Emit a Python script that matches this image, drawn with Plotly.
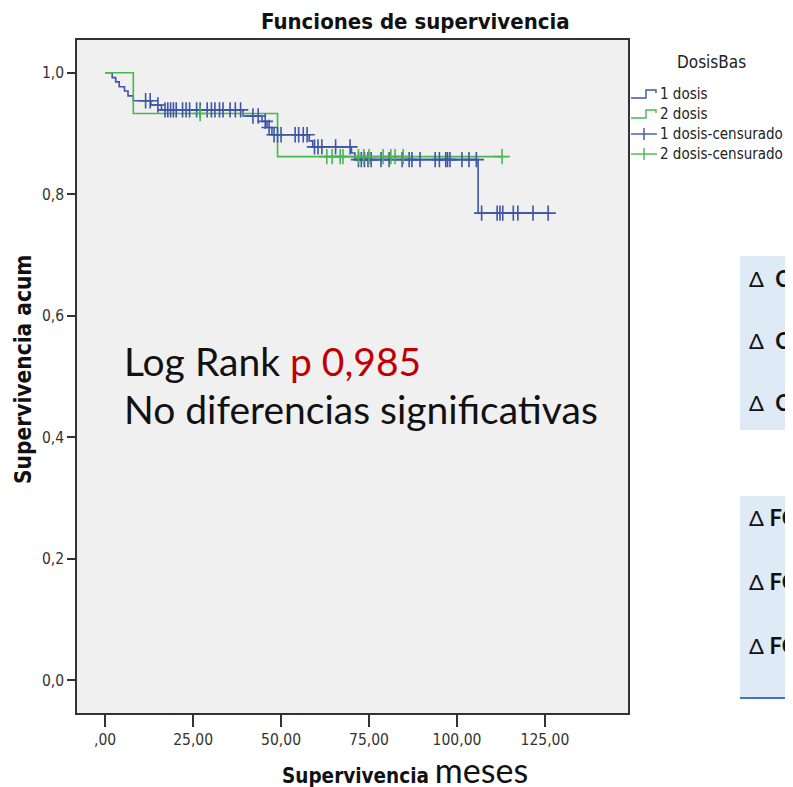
import numpy as np
import plotly.graph_objects as go

# ---------------- data ----------------
blue_event_t = [0, 2, 3, 4, 5.5, 6.5, 8, 13, 16, 39.2, 44.6, 46, 47.4, 58, 59, 70, 71, 106]
blue_surv = [1.0, 0.992, 0.985, 0.977, 0.970, 0.962, 0.954, 0.947, 0.939, 0.929, 0.920,
             0.910, 0.898, 0.888, 0.878, 0.868, 0.857, 0.769]
blue_end = 126.0
blue_cens_t = [11.5, 12.8, 15.0, 17.0, 17.8, 18.6, 19.4, 20.2, 22.0, 23.0, 24.0, 26.0, 27.0,
               29.0, 30.2, 31.2, 32.5, 33.5, 35.5, 37.0, 38.5, 42.0, 43.5, 45.5, 46.6, 48.0,
               49.0, 50.0, 54.0, 55.0, 56.3, 57.4, 59.5, 60.5, 61.6, 65.5, 69.6, 72.0, 72.8,
               73.7, 74.7, 75.6, 78.4, 80.7, 84.4, 86.4, 87.2, 89.5, 93.8, 95.0, 96.8, 97.3,
               98.0, 101.4, 103.4, 105.5, 107.0, 111.4, 112.2, 113.0, 116.0, 117.3, 121.6, 125.9]

green_event_t = [0, 8, 49]
green_surv = [1.0, 0.933, 0.862]
green_end = 112.8
green_cens_t = [27.0, 63.0, 64.5, 66.8, 67.6, 72.0, 73.5, 75.0, 79.0, 81.2, 82.4, 84.7, 112.8]

y_ticks = [0.0, 0.2, 0.4, 0.6, 0.8, 1.0]
y_ticklabels = ["0,0", "0,2", "0,4", "0,6", "0,8", "1,0"]
x_ticks = [0, 25, 50, 75, 100, 125]
x_ticklabels = [",00", "25,00", "50,00", "75,00", "100,00", "125,00"]

legend_labels = ["1 dosis", "2 dosis", "1 dosis-censurado", "2 dosis-censurado"]

BLUE = "#3f55a6"
GREEN = "#45b94c"
NARROW = "Liberation Sans Narrow, DejaVu Sans Condensed, Arial Narrow, sans-serif"
COND = "DejaVu Sans Condensed, Liberation Sans Narrow, sans-serif"
CAL = "Lato, Carlito, Calibri, Open Sans, sans-serif"


def surv_at(times, ev_t, ev_s):
    idx = np.searchsorted(np.array(ev_t), np.array(times), side="right") - 1
    return list(np.array(ev_s)[idx])


fig = go.Figure()
for ev_t, ev_s, end, col in [(blue_event_t, blue_surv, blue_end, BLUE),
                             (green_event_t, green_surv, green_end, GREEN)]:
    fig.add_trace(go.Scatter(x=list(ev_t) + [end], y=list(ev_s) + [ev_s[-1]],
                             mode="lines", line=dict(color=col, width=1.6, shape="hv"),
                             showlegend=False, hoverinfo="skip"))
for ct, ev_t, ev_s, col in [(blue_cens_t, blue_event_t, blue_surv, BLUE),
                            (green_cens_t, green_event_t, green_surv, GREEN)]:
    fig.add_trace(go.Scatter(x=ct, y=surv_at(ct, ev_t, ev_s), mode="markers",
                             marker=dict(symbol="cross-thin", size=11,
                                         line=dict(color=col, width=1.6)),
                             showlegend=False, hoverinfo="skip"))

# The page body keeps its default 8px margin, so the figure is offset by 8px.
OFF = 8
W, H = 793 - OFF, 787 - OFF
# plot area in screen pixels
L, R, T, B = 77, 628, 40, 713


def px(x):
    return (x - L) / (R - L)


def py(y):
    return (B - y) / (B - T)


shapes = []
annotations = []

# legend
annotations.append(dict(x=px(711), y=py(62), xref="paper", yref="paper", text="DosisBas",
                        showarrow=False, xanchor="center", yanchor="middle",
                        font=dict(family=COND, size=17, color="#222")))
leg_y = [94, 114, 134, 154]
cols = [BLUE, GREEN, BLUE, GREEN]
for i, (yy, lab, c) in enumerate(zip(leg_y, legend_labels, cols)):
    if i < 2:
        path = "M %f %f L %f %f L %f %f L %f %f L %f %f" % (
            px(631), py(yy + 4), px(646), py(yy + 4), px(646), py(yy - 4),
            px(656), py(yy - 4), px(656), py(yy - 1))
        shapes.append(dict(type="path", xref="paper", yref="paper", path=path,
                           line=dict(color=c, width=1.4)))
    else:
        shapes.append(dict(type="line", xref="paper", yref="paper", x0=px(631), x1=px(657),
                           y0=py(yy), y1=py(yy), line=dict(color=c, width=1.4)))
        shapes.append(dict(type="line", xref="paper", yref="paper", x0=px(644), x1=px(644),
                           y0=py(yy - 6), y1=py(yy + 6), line=dict(color=c, width=1.4)))
    annotations.append(dict(x=px(658), y=py(yy), xref="paper", yref="paper", text=lab,
                            showarrow=False, xanchor="left", yanchor="middle",
                            font=dict(family=COND, size=15, color="#222")))

# right-side boxes
shapes.append(dict(type="rect", xref="paper", yref="paper", x0=px(740), x1=px(820),
                   y0=py(430), y1=py(256), fillcolor="#deeaf6", line=dict(width=0), layer="below"))
shapes.append(dict(type="rect", xref="paper", yref="paper", x0=px(740), x1=px(820),
                   y0=py(697), y1=py(496), fillcolor="#deeaf6", line=dict(width=0), layer="below"))
shapes.append(dict(type="line", xref="paper", yref="paper", x0=px(740), x1=px(820),
                   y0=py(698), y1=py(698), line=dict(color="#4472c4", width=2)))
for yy in [278, 340, 402]:
    annotations.append(dict(x=px(747), y=py(yy), xref="paper", yref="paper",
                            text="Δ\u00a0\u00a0<b>C</b>", showarrow=False, xanchor="left",
                            yanchor="middle", font=dict(family=CAL, size=22, color="#111")))
for yy in [518, 581, 645]:
    annotations.append(dict(x=px(747), y=py(yy), xref="paper", yref="paper",
                            text="Δ\u00a0<b>FC</b>", showarrow=False, xanchor="left",
                            yanchor="middle", font=dict(family=CAL, size=22, color="#111")))

# log rank text
annotations.append(dict(x=px(122), y=py(361), xref="paper", yref="paper",
                        text="Log Rank <span style='color:#c00000'>p 0,985</span>",
                        showarrow=False, xanchor="left", yanchor="middle",
                        font=dict(family=CAL, size=39, color="#111")))
annotations.append(dict(x=px(122), y=py(409), xref="paper", yref="paper",
                        text="No diferencias significativas",
                        showarrow=False, xanchor="left", yanchor="middle",
                        font=dict(family=CAL, size=39, color="#111")))

# titles
annotations.append(dict(x=px(415), y=py(21), xref="paper", yref="paper",
                        text="<b>Funciones de supervivencia</b>", showarrow=False,
                        xanchor="center", yanchor="middle",
                        font=dict(family=NARROW, size=22, color="#111")))
annotations.append(dict(x=px(405), y=py(769), xref="paper", yref="paper",
                        text="<b>Supervivencia</b> <span style='font-family:Lato, Carlito, sans-serif;font-size:34px'>meses</span>",
                        showarrow=False, xanchor="center", yanchor="middle",
                        font=dict(family=NARROW, size=20.5, color="#111")))
annotations.append(dict(x=px(23), y=py(370), xref="paper", yref="paper",
                        text="<b>Supervivencia acum</b>", showarrow=False, textangle=-90,
                        xanchor="center", yanchor="middle",
                        font=dict(family=NARROW, size=22.5, color="#111")))

fig.update_layout(
    width=W, height=H,
    margin=dict(l=L - OFF, r=W - (R - OFF), t=T - OFF, b=H - (B - OFF), pad=0),
    paper_bgcolor="white", plot_bgcolor="#f0f0f0",
    showlegend=False,
    shapes=shapes, annotations=annotations,
    xaxis=dict(range=[-8, 148.6], tickvals=x_ticks, ticktext=x_ticklabels,
               showgrid=False, zeroline=False, showline=True, mirror=True,
               linecolor="#333", linewidth=1.6, ticks="outside", ticklen=12,
               tickwidth=1.5, tickcolor="#333",
               tickfont=dict(family=NARROW, size=15.5, color="#333")),
    yaxis=dict(range=[-0.054, 1.054], tickvals=y_ticks, ticktext=y_ticklabels,
               showgrid=False, zeroline=False, showline=True, mirror=True,
               linecolor="#333", linewidth=1.6, ticks="outside", ticklen=8,
               tickwidth=1.5, tickcolor="#333",
               tickfont=dict(family=NARROW, size=15.5, color="#333")),
)

fig.write_html("out.html")
